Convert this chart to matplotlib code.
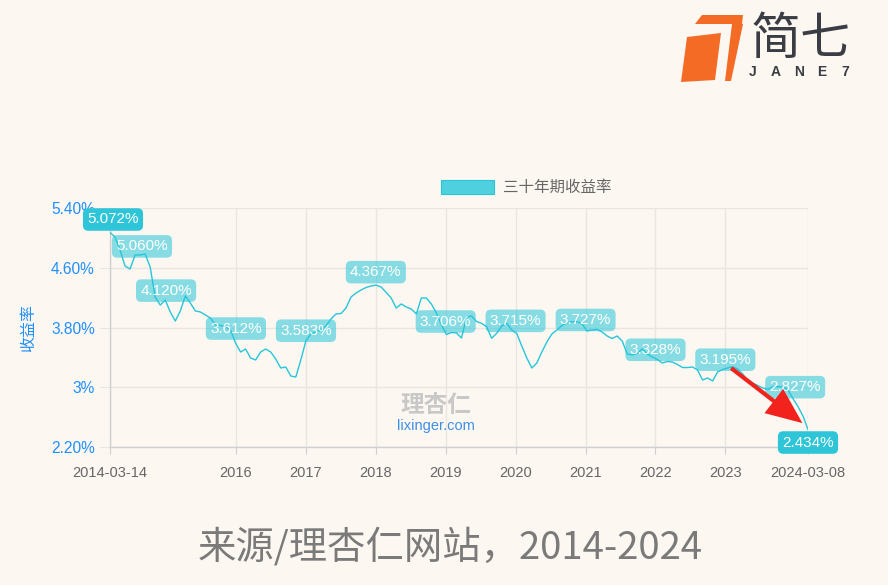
import numpy as np
import pandas as pd
import matplotlib
matplotlib.use('Agg')
import matplotlib.pyplot as plt
from matplotlib.patches import Patch, Polygon
from matplotlib.colors import to_rgba

plt.rcParams['font.family'] = ['Liberation Sans', 'Noto Sans CJK SC', 'DejaVu Sans']

# 30-year yield (%) at equal time steps
start, end = '2014-03-14', '2024-03-08'
yields = [
    5.072, 5.012, 4.838, 4.623, 4.583, 4.771, 4.771, 4.784, 4.610, 4.208,
    4.101, 4.168, 4.008, 3.887, 4.021, 4.222, 4.128, 4.021, 4.008, 3.967,
    3.927, 3.834, 3.827, 3.811, 3.767, 3.592, 3.472, 3.512, 3.392, 3.365,
    3.472, 3.512, 3.472, 3.378, 3.258, 3.271, 3.151, 3.137, 3.365, 3.619,
    3.713, 3.740, 3.767, 3.820, 3.914, 3.981, 3.987, 4.061, 4.208, 4.262,
    4.302, 4.336, 4.356, 4.367, 4.342, 4.269, 4.195, 4.061, 4.115, 4.075,
    4.048, 3.981, 4.195, 4.195, 4.115, 3.994, 3.834, 3.706, 3.733, 3.727,
    3.659, 3.941, 3.954, 3.880, 3.856, 3.811, 3.656, 3.722, 3.820, 3.856,
    3.767, 3.720, 3.552, 3.392, 3.258, 3.325, 3.472, 3.606, 3.713, 3.767,
    3.827, 3.860, 3.878, 3.878, 3.847, 3.753, 3.767, 3.773, 3.740, 3.686,
    3.653, 3.686, 3.619, 3.445, 3.432, 3.455, 3.512, 3.445, 3.405, 3.372,
    3.325, 3.345, 3.338, 3.305, 3.264, 3.264, 3.271, 3.231, 3.097, 3.124,
    3.084, 3.204, 3.238, 3.258, 3.275, 3.244, 3.177, 3.090, 3.057, 3.023,
    2.990, 2.970, 3.007, 3.007, 3.007, 2.966, 2.849, 2.742, 2.615, 2.434]
dates = pd.date_range(start, end, periods=len(yields))

# marked points
mark_dates = ['2014-03-14', '2014-08-28', '2015-01-01', '2016-01-01', '2017-01-01',
              '2018-01-01', '2019-01-01', '2020-01-01', '2021-01-01', '2022-01-01',
              '2023-01-01', '2024-01-01', '2024-03-08']
mark_vals = [5.072, 5.060, 4.120, 3.612, 3.583, 4.367, 3.706, 3.715, 3.727,
             3.328, 3.195, 2.827, 2.434]

ytick_vals = [2.2, 3.0, 3.8, 4.6, 5.4]
ytick_labels = ['2.20%', '3%', '3.80%', '4.60%', '5.40%']
xtick_dates = ['2014-03-14', '2016-01-01', '2017-01-01', '2018-01-01', '2019-01-01',
               '2020-01-01', '2021-01-01', '2022-01-01', '2023-01-01', '2024-03-08']
xtick_labels = ['2014-03-14', '2016', '2017', '2018', '2019', '2020', '2021',
                '2022', '2023', '2024-03-08']

bg = '#fdf7f1'
cyan = '#26c6da'
blue = '#1e8fff'
grid_c = '#e9e6e2'

W, H = 888, 585
fig = plt.figure(figsize=(W / 100, H / 100), dpi=100, facecolor=bg)
ax = fig.add_axes([110 / W, 1 - 447 / H, 698 / W, 239 / H])
ax.set_facecolor(bg)

ax.plot(dates, yields, color=cyan, lw=1.0, zorder=3)

ax.set_xlim(pd.Timestamp(start), pd.Timestamp(end))
ax.set_ylim(2.2, 5.4)
ax.set_yticks(ytick_vals)
ax.set_yticklabels(ytick_labels)
ax.set_xticks([pd.Timestamp(d) for d in xtick_dates])
ax.set_xticklabels(xtick_labels)
ax.grid(True, color=grid_c, lw=1.0, zorder=0)
ax.set_axisbelow(True)
for s in ['top', 'right']:
    ax.spines[s].set_visible(False)
for s in ['left', 'bottom']:
    ax.spines[s].set_color('#cfcfcf')
    ax.spines[s].set_linewidth(1.0)
ax.tick_params(axis='y', length=8, color=grid_c, pad=3, labelcolor=blue, labelsize=11.2)
ax.tick_params(axis='x', length=5, color='#cfcfcf', pad=9, labelcolor='#666666', labelsize=10.5)

ax.set_ylabel('收益率', color=blue, fontsize=11.5)
ax.yaxis.set_label_coords(-0.106, 0.5)

# point labels
n = len(mark_vals)
for i, (d, v) in enumerate(zip(mark_dates, mark_vals)):
    end_pt = i == 0 or i == n - 1
    dy = -13 if i in (1, n - 1) else 13
    dx = 3 if i == 0 else 0
    fc = to_rgba('#2ec5d8', 1.0) if end_pt else to_rgba(cyan, 0.55)
    ax.annotate(f'{v:.3f}%', (pd.Timestamp(d), v), xytext=(dx, dy),
                textcoords='offset pixels', ha='center', va='center',
                color='white', fontsize=11, zorder=6, annotation_clip=False,
                bbox=dict(boxstyle='round,pad=0.28,rounding_size=0.35', fc=fc, ec='none'))

# red arrow
ax.annotate('', xy=(0.992, 0.10), xytext=(0.890, 0.33), xycoords='axes fraction',
            arrowprops=dict(arrowstyle='simple,head_length=1.3,head_width=1.1,tail_width=0.15',
                            color='#f2231c', lw=0, shrinkA=0, shrinkB=0, mutation_scale=20),
            zorder=7)

# watermark
ax.text(0.467, 0.175, '理杏仁', transform=ax.transAxes, ha='center', va='center',
        fontsize=17, color='#c8c8c8', fontweight='bold', zorder=2)
ax.text(0.467, 0.087, 'lixinger.com', transform=ax.transAxes, ha='center', va='center',
        fontsize=10.5, color='#3d8fe8', zorder=2)

# legend
fig.legend([Patch(facecolor='#4fd0df', edgecolor=cyan, lw=0.8)], ['三十年期收益率'],
           loc='center', bbox_to_anchor=(526 / W, 1 - 187.5 / H), frameon=False,
           handlelength=3.4, handleheight=1.0, handletextpad=0.6, fontsize=11.2,
           labelcolor='#666666')

# caption
fig.text(450 / W, 1 - 548 / H, '来源/理杏仁网站，2014-2024', ha='center', va='center',
         fontsize=27.6, color='#7a7a7a', family=['Noto Sans CJK SC'])

# logo
def px(pts):
    return [(x / W, 1 - y / H) for x, y in pts]

orange = '#f46b25'
for pts in [[(695, 24), (702, 15), (743, 15), (742, 24)],
            [(732, 24), (743, 24), (731, 81), (725, 81)],
            [(687, 37), (721, 33), (715, 80), (681, 82)]]:
    fig.add_artist(Polygon(px(pts), closed=True, fc=orange, ec='none',
                           transform=fig.transFigure))
fig.text(801 / W, 1 - 40 / H, '简七', ha='center', va='center', fontsize=36,
         color='#3b3d45', family=['Noto Sans CJK SC'])
for ch, x in zip('JANE7', [753, 776, 799, 822, 845]):
    fig.text(x / W, 1 - 72 / H, ch, ha='center', va='center', fontsize=10,
             color='#3b3d45', fontweight='bold')

fig.savefig('out.png', dpi=100, facecolor=bg)
